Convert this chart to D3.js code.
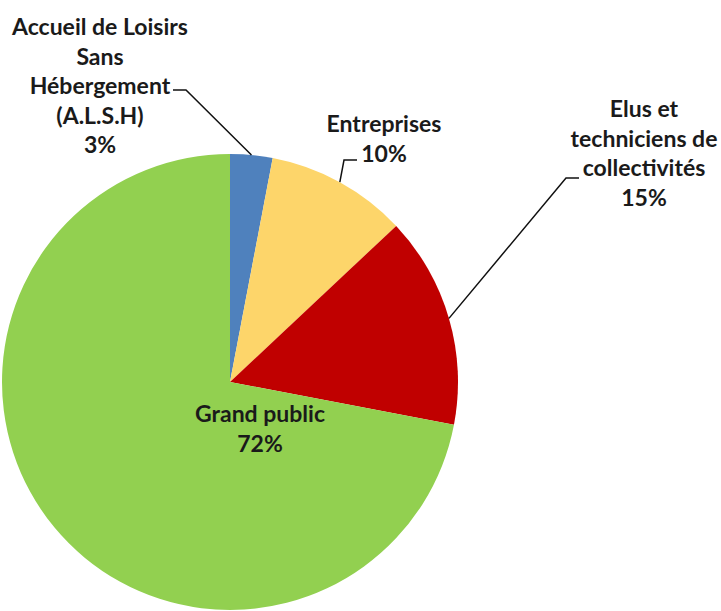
<!DOCTYPE html>
<html>
<head>
<meta charset="utf-8">
<script src="https://cdn.jsdelivr.net/npm/d3@7"></script>
<style>
  body { margin: 0; background: #fff; }
  text { font-family: Lato, "Open Sans", sans-serif; font-weight: bold; fill: #1a1a1a; }
</style>
</head>
<body>
<div id="chart"></div>
<script>
// data
var categories = ["Accueil de Loisirs Sans Hébergement (A.L.S.H)", "Entreprises", "Elus et techniciens de collectivités", "Grand public"];
var values = [3, 10, 15, 72];
var colors = ["#4f81bd", "#fdd56a", "#c00000", "#92d050"];
var labelLines = [
  ["Accueil de Loisirs", "Sans", "Hébergement", "(A.L.S.H)", "3%"],
  ["Entreprises", "10%"],
  ["Elus et", "techniciens de", "collectivités", "15%"],
  ["Grand public", "72%"]
];

// label placement (layout, not data)
var labelPos = [
  {x: 100, y: 26, leader: [[173, 90], [186, 90]]},
  {x: 384, y: 123, leader: [[357, 160], [344, 160]]},
  {x: 644, y: 108, leader: [[579, 178], [566, 178]]},
  {x: 260, y: 413, leader: null}
];

var width = 721, height = 611;
var cx = 230, cy = 382, radius = 228;
var lineH = 29.5;

var svg = d3.select("#chart").append("svg")
  .attr("width", width)
  .attr("height", height);

var g = svg.append("g")
  .attr("transform", "translate(" + cx + "," + cy + ")");

var pie = d3.pie().sort(null).value(function(d){ return d; });
var arcs = pie(values);

var arc = d3.arc().innerRadius(0).outerRadius(radius);
var edgeArc = d3.arc().innerRadius(radius).outerRadius(radius);

g.selectAll("path.slice")
  .data(arcs)
  .enter()
  .append("path")
    .attr("class", "slice")
    .attr("d", arc)
    .attr("fill", function(d, i){ return colors[i]; });

// leader lines: from label to slice edge midpoint
arcs.forEach(function(d, i){
  var lp = labelPos[i];
  if (!lp.leader) return;
  var c = edgeArc.centroid(d);
  var pts = lp.leader.map(function(p){ return [p[0] - cx, p[1] - cy]; });
  pts.push(c);
  g.append("path")
    .attr("d", d3.line()(pts))
    .attr("fill", "none")
    .attr("stroke", "#111")
    .attr("stroke-width", 1.5);
});

// labels
labelLines.forEach(function(lines, i){
  var lp = labelPos[i];
  var t = svg.append("text")
    .attr("text-anchor", "middle")
    .attr("font-size", 23)
    .attr("dominant-baseline", "central");
  lines.forEach(function(l, j){
    t.append("tspan")
      .attr("x", lp.x)
      .attr("y", lp.y + j * lineH)
      .text(l);
  });
});
</script>
</body>
</html>
